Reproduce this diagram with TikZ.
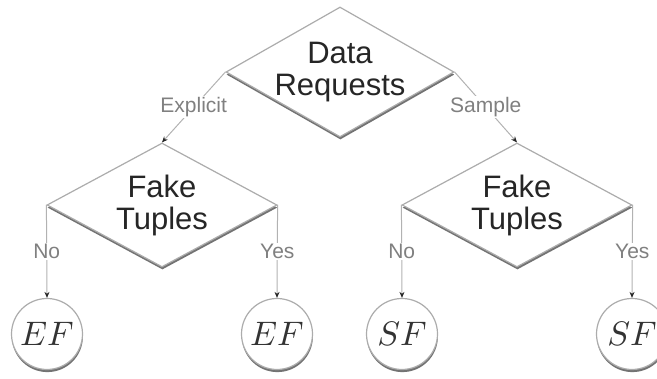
\documentclass[tikz,border=0pt]{standalone}
\usepackage{graphicx}
\usepackage{fontspec}
\setmainfont{Liberation Sans}
\usetikzlibrary{shapes.geometric,shadows,arrows.meta}
\newcommand{\leaftxt}[1]{\scalebox{3.4}{$#1$}}
\begin{document}
\begin{tikzpicture}[x=1pt,y=-1pt,
  shad/.style={drop shadow={shadow xshift=0.4pt, shadow yshift=-2.6pt, fill=black!55, opacity=1}},
  dia/.style={diamond, draw=gray!65, line width=1.2pt, fill=white, inner sep=0pt, shad},
  maintxt/.style={font=\fontsize{31}{32}\selectfont, align=center, text=black!85, inner sep=0pt},
  leaf/.style={circle, draw=gray!65, line width=1.2pt, fill=white, minimum size=71pt, inner sep=0pt, shad,
    text=black!80},
  conn/.style={draw=gray!60, line width=1pt, -{Stealth[length=6pt,width=5pt,color=black!85]}},
  elbl/.style={fill=white, font=\fontsize{21}{21}\selectfont, text=gray, inner sep=1.5pt}
]
\useasboundingbox (0,0) rectangle (657,379);

\node[dia, minimum width=228pt, minimum height=130pt,
  label={[maintxt]center:Data\\Requests}] (top) at (340,72) {};
\node[dia, minimum width=230pt, minimum height=124pt,
  label={[maintxt]center:Fake\\Tuples}] (fl) at (162,205) {};
\node[dia, minimum width=230pt, minimum height=124pt,
  label={[maintxt]center:Fake\\Tuples}] (fr) at (517,205) {};

\node[leaf] (c1) at (47,334) {\leaftxt{EF}};
\node[leaf] (c2) at (277,334) {\leaftxt{EF}};
\node[leaf] (c3) at (402,334) {\leaftxt{SF}};
\node[leaf] (c4) at (632,334) {\leaftxt{SF}};

\draw[conn] (top.west) -- node[elbl] {Explicit} (fl.north);
\draw[conn] (top.east) -- node[elbl] {Sample} (fr.north);
\draw[conn] (fl.west) -- node[elbl] {No} (c1.north);
\draw[conn] (fl.east) -- node[elbl] {Yes} (c2.north);
\draw[conn] (fr.west) -- node[elbl] {No} (c3.north);
\draw[conn] (fr.east) -- node[elbl] {Yes} (c4.north);
\end{tikzpicture}
\end{document}
